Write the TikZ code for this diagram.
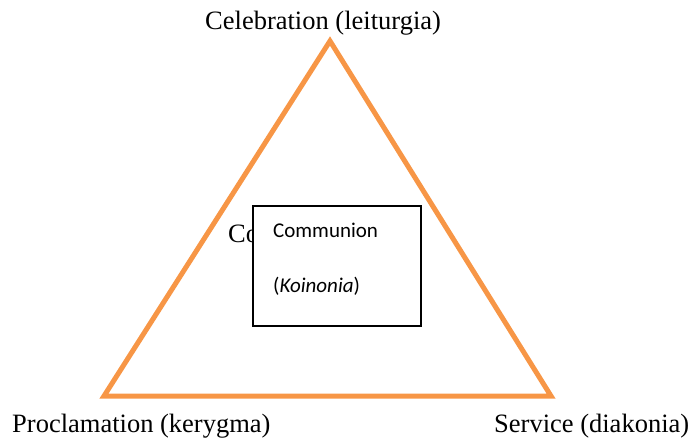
\documentclass[tikz,border=0pt]{standalone}
\usepackage{fontspec}
\setmainfont{Liberation Serif}
\newfontfamily\calibrifont{Carlito}
\definecolor{triorange}{HTML}{F79646}
\begin{document}
\begin{tikzpicture}[x=1pt,y=-1pt,
  lbl/.style={inner sep=0pt, anchor=base west, font=\fontsize{26.5}{30}\selectfont},
  boxtxt/.style={inner sep=0pt, anchor=base west, font=\calibrifont\fontsize{21}{25}\selectfont},
  tri/.style={draw=triorange, line width=5pt, line join=miter}]
\useasboundingbox (0,0) rectangle (690,438);
\coordinate (apex) at (330,41);
\coordinate (bl) at (104,396);
\coordinate (br) at (551,396);
\draw[tri] (apex) -- (bl) -- (br) -- cycle;
\node[lbl] (cel) at (205,30) {Celebration (leiturgia)};
\node[lbl] (pro) at (12,432) {Proclamation (kerygma)};
\node[lbl] (ser) at (494,432) {Service (diakonia)};
\node[lbl] (hidden) at (228,243) {Communion};
\node[draw=black, fill=white, line width=1.5pt, minimum width=168pt, minimum height=120pt, inner sep=0pt] (box) at (337,266) {};
\node[boxtxt] (comm) at (273,237) {Communion};
\node[boxtxt] (koin) at (273,292) {(\textit{Koinonia})};
\end{tikzpicture}
\end{document}
